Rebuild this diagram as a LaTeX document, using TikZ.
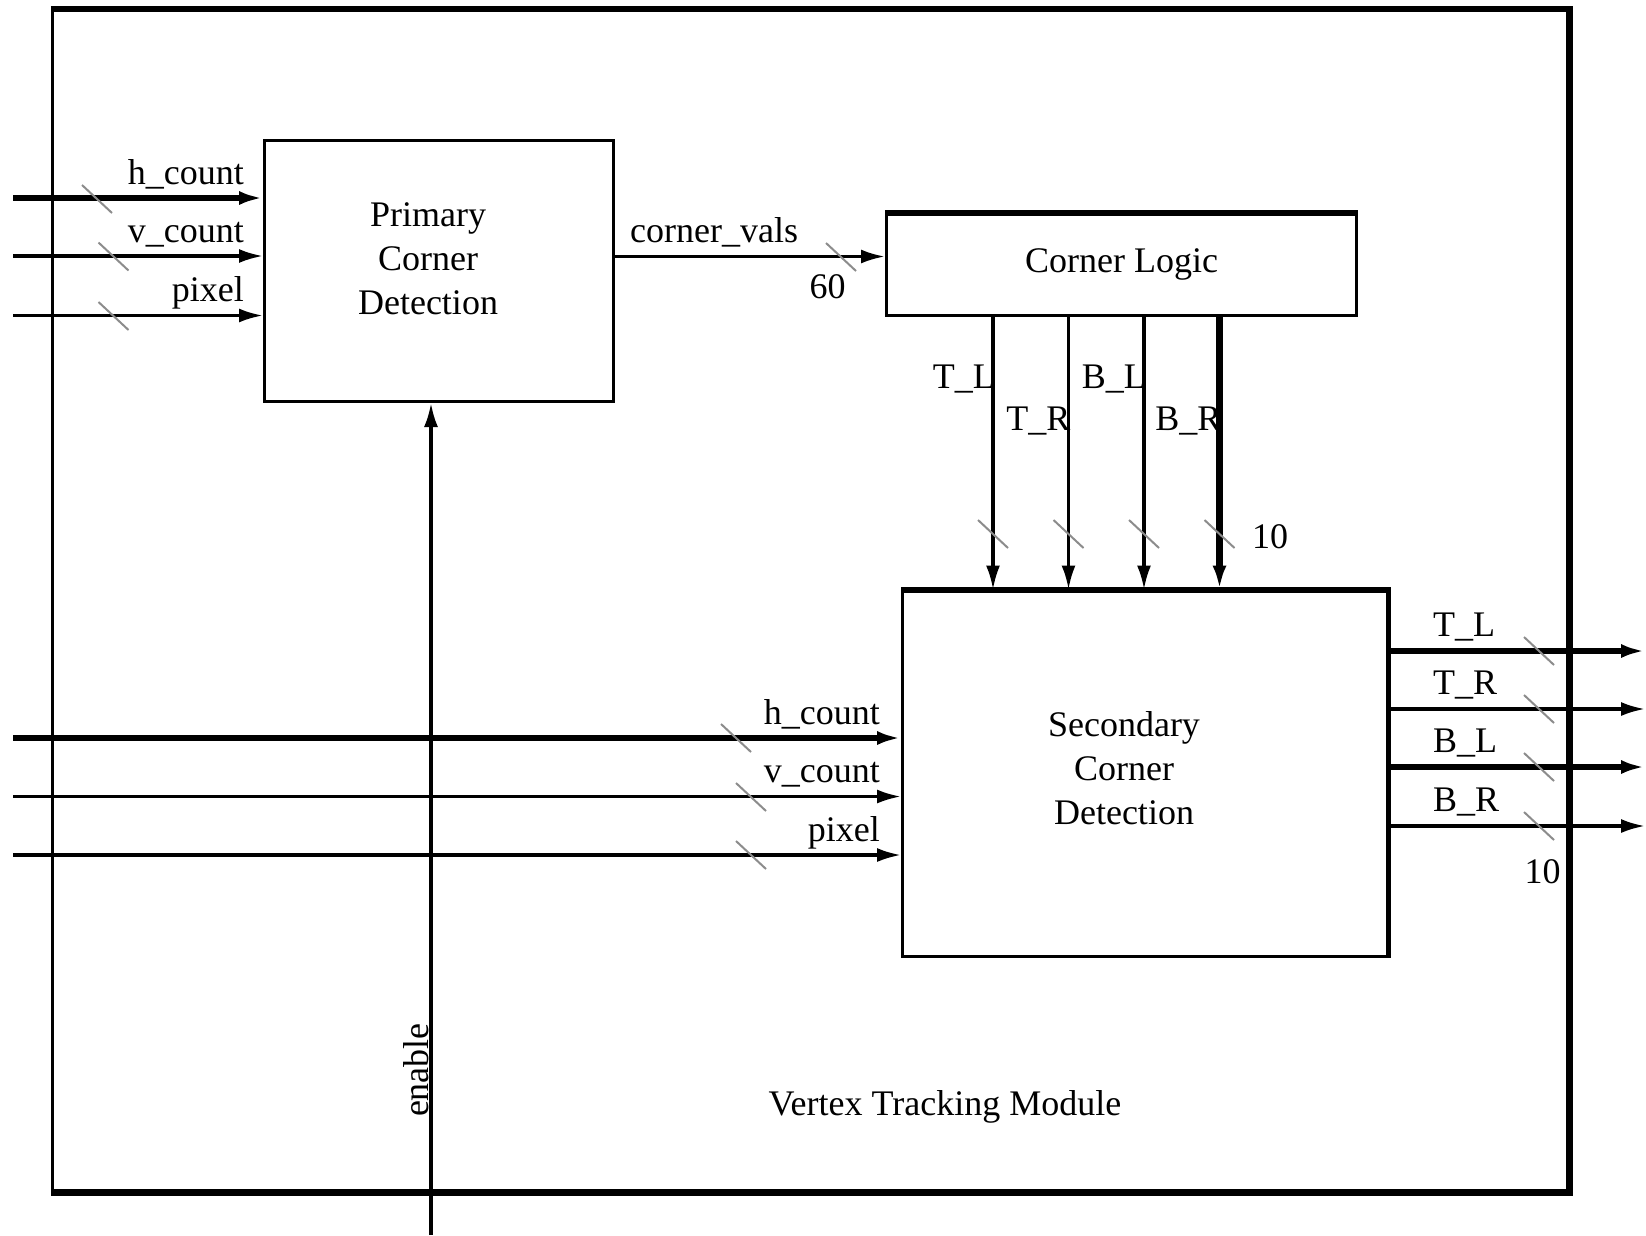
\documentclass[tikz,border=0pt]{standalone}
\usepackage{fontspec}
\setmainfont{Liberation Serif}
\usetikzlibrary{arrows.meta,positioning}

\begin{document}
\begin{tikzpicture}[
    x=1pt, y=-1pt,
    every node/.style={font=\fontsize{36}{44}\selectfont, inner sep=0pt},
    blk/.style={draw, line width=3pt},
    edge/.style={line width=5.5pt, line join=miter},
    txt/.style={align=center},
    bus/.style={line width=3.2pt},
    wide/.style={line width=6.2pt},
    arr/.style={-{Latex[length=24pt, width=14pt]}},
    slashln/.style={draw=black!45, line width=2pt},
    busslash/.pic={\draw[slashln] (-15,-14) -- (15,14);}
]
\useasboundingbox (0,0) rectangle (1646,1235);

% module frame
\node[draw, line width=3.5pt, minimum width=1515.5, minimum height=1181] (vtm) at (810.25,600.5) {};
\draw[edge] (vtm.north west) -- (vtm.north east) -- (vtm.south east) -- (vtm.south west);
\node[anchor=base] (vtmlbl) at (945,1115) {Vertex Tracking Module};

% blocks
\node[blk, minimum width=348.5, minimum height=261.5] (prim) at (438.75,270.75) {};
\node[txt] (primtxt) at (428,259) {Primary\\Corner\\Detection};
\node[blk, minimum width=470, minimum height=101.5] (cl) at (1121.5,264.75) {Corner Logic};
\draw[edge] (cl.north west) -- (cl.north east);
\node[blk, minimum width=484.5, minimum height=365] (sec) at (1144.75,773.5) {};
\draw[edge] (sec.north west) -- (sec.north east) -- (sec.south east);
\node[txt] (sectxt) at (1124,768) {Secondary\\Corner\\Detection};

% primary inputs
\coordinate (phc) at (13,198);
\coordinate (pvc) at (13,256);
\coordinate (ppx) at (13,315.5);
\draw[wide,arr] (phc) -- (phc -| prim.west);
\draw[bus,arr] (pvc) -- (pvc -| prim.west);
\draw[bus,arr] (ppx) -- (ppx -| prim.west);
\node[anchor=base east] (phclbl) at (244,184) {h\_count};
\node[anchor=base east] (pvclbl) at (244,242) {v\_count};
\node[anchor=base east] (ppxlbl) at (244,301.5) {pixel};
\pic at (97,199) {busslash};
\pic at (113.5,256.5) {busslash};
\pic at (113.5,316) {busslash};

% corner values
\coordinate (cv) at (613,256.5);
\draw[bus,arr] (cv) -- (cv -| cl.west);
\node[anchor=base west] (cvlbl) at (630,242) {corner\_vals};
\pic at (841,257) {busslash};
\node[anchor=base] (w60) at (827.5,298) {60};

% corner logic to secondary
\coordinate (tl) at (993,450);
\coordinate (tr) at (1068.5,450);
\coordinate (bl) at (1144,450);
\coordinate (br) at (1219.5,450);
\draw[bus,arr] (cl.south -| tl) -- (sec.north -| tl);
\draw[bus,arr] (cl.south -| tr) -- (sec.north -| tr);
\draw[bus,arr] (cl.south -| bl) -- (sec.north -| bl);
\draw[wide,arr] (cl.south -| br) -- (sec.north -| br);
\node[anchor=base east] (tllbl) at (995,388) {T\_L};
\node[anchor=base east] (trlbl) at (1070.5,430) {T\_R};
\node[anchor=base east] (bllbl) at (1146,388) {B\_L};
\node[anchor=base east] (brlbl) at (1221.5,430) {B\_R};
\pic at (993,534) {busslash};
\pic at (1068.5,534) {busslash};
\pic at (1144,534) {busslash};
\pic at (1219.5,534) {busslash};
\node[anchor=base west] (w10a) at (1252,548) {10};

% secondary inputs
\coordinate (shc) at (13,738);
\coordinate (svc) at (13,796.5);
\coordinate (spx) at (13,855);
\draw[wide,arr] (shc) -- (shc -| sec.west);
\draw[bus,arr] (svc) -- (svc -| sec.west);
\draw[bus,arr] (spx) -- (spx -| sec.west);
\node[anchor=base east] (shclbl) at (880,724) {h\_count};
\node[anchor=base east] (svclbl) at (880,782.5) {v\_count};
\node[anchor=base east] (spxlbl) at (880,841) {pixel};
\pic at (736,738) {busslash};
\pic at (751,797) {busslash};
\pic at (751,855) {busslash};

% outputs
\coordinate (otl) at (1645,651);
\coordinate (otr) at (1645,709);
\coordinate (obl) at (1645,767);
\coordinate (obr) at (1645,826);
\draw[wide,arr] (sec.east |- otl) -- (otl);
\draw[bus,arr] (sec.east |- otr) -- (otr);
\draw[wide,arr] (sec.east |- obl) -- (obl);
\draw[bus,arr] (sec.east |- obr) -- (obr);
\node[anchor=base west] (otllbl) at (1433,636) {T\_L};
\node[anchor=base west] (otrlbl) at (1433,694) {T\_R};
\node[anchor=base west] (obllbl) at (1433,752) {B\_L};
\node[anchor=base west] (obrlbl) at (1433,811) {B\_R};
\pic at (1539,651) {busslash};
\pic at (1539,709) {busslash};
\pic at (1539,767) {busslash};
\pic at (1539,826) {busslash};
\node[anchor=base] (w10b) at (1542.5,883) {10};

% enable
\coordinate (en) at (431,1235);
\draw[bus,arr] (en) -- (en |- prim.south);
\node[rotate=90, anchor=base] (enlbl) at (428.5,1070) {enable};
\end{tikzpicture}
\end{document}
